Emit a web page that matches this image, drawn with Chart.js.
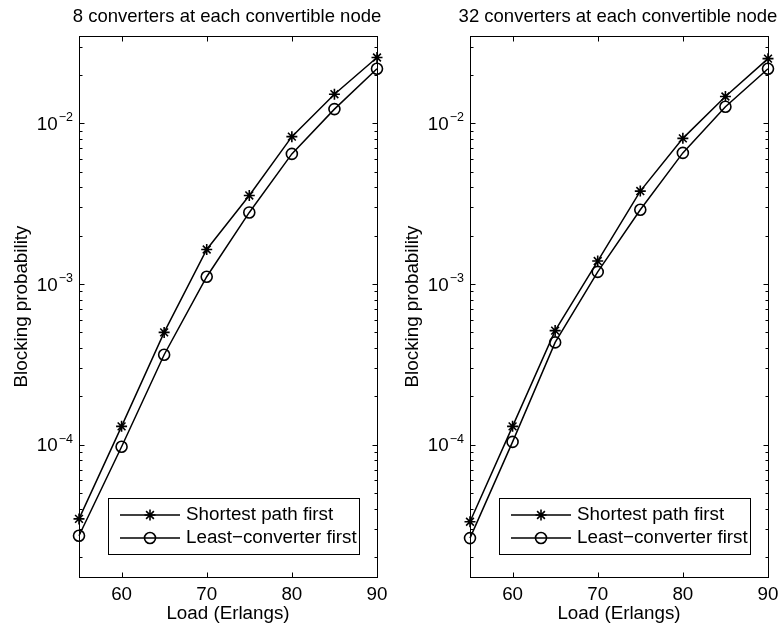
<!DOCTYPE html>
<html>
<head>
<meta charset="utf-8">
<script src="https://cdn.jsdelivr.net/npm/chart.js@4.4.0/dist/chart.umd.min.js"></script>
<style>
  html, body { margin: 0; padding: 0; background: #fff; }
  #wrap { position: relative; width: 779px; height: 632px; }
  #c1 { position: absolute; left: 0; top: 0; }
  #c2 { position: absolute; left: 391px; top: 0; }
</style>
</head>
<body>
<div id="wrap">
  <canvas id="c1" width="390" height="632"></canvas>
  <canvas id="c2" width="388" height="632"></canvas>
</div>
<script>
// data
const loads = [55, 60, 65, 70, 75, 80, 85, 90];
const shortest8 = [3.45e-5, 1.30e-4, 5.0e-4, 1.64e-3, 3.56e-3, 8.27e-3, 1.52e-2, 2.57e-2];
const least8 = [2.71e-5, 9.7e-5, 3.63e-4, 1.11e-3, 2.79e-3, 6.46e-3, 1.227e-2, 2.19e-2];
const shortest32 = [3.31e-5, 1.30e-4, 5.13e-4, 1.39e-3, 3.79e-3, 8.07e-3, 1.47e-2, 2.53e-2];
const least32 = [2.62e-5, 1.04e-4, 4.33e-4, 1.19e-3, 2.90e-3, 6.55e-3, 1.27e-2, 2.19e-2];

const xTicks = [60, 70, 80, 90];
const yTicks = [1e-4, 1e-3, 1e-2];
const yTickExp = ['\u22124', '\u22123', '\u22122'];
const titles = ['8 converters at each convertible node', '32 converters at each convertible node'];
const seriesNames = ['Shortest path first', 'Least\u2212converter first'];

const FAMILY = '"Liberation Sans", Arial, Helvetica, sans-serif';
const FS = 18.8;
const fontMain = { family: FAMILY, size: FS, weight: 'normal' };

// matlab style title, box, inside ticks, superscript tick labels and legend
const matlabAxes = {
  id: 'matlabAxes',
  afterDraw(chart, args, opts) {
    const { ctx, chartArea: a, scales: { x, y } } = chart;
    const L = Math.round(a.left) + 0.5, R = Math.round(a.right) + 0.5;
    const T = Math.round(a.top) + 0.5, B = Math.round(a.bottom) + 0.5;
    ctx.save();

    // title
    ctx.fillStyle = '#000';
    ctx.font = '18.5px ' + FAMILY;
    ctx.textAlign = 'center';
    ctx.textBaseline = 'alphabetic';
    ctx.fillText(opts.title, (a.left + a.right) / 2 - 1, 22);

    ctx.strokeStyle = '#000';
    ctx.lineWidth = 1;
    ctx.strokeRect(L, T, R - L, B - T);

    ctx.beginPath();
    xTicks.forEach(v => {
      const px = Math.round(x.getPixelForValue(v)) + 0.5;
      ctx.moveTo(px, B); ctx.lineTo(px, B - 5);
      ctx.moveTo(px, T); ctx.lineTo(px, T + 5);
    });
    yTicks.forEach(v => {
      const py = Math.round(y.getPixelForValue(v)) + 0.5;
      ctx.moveTo(L, py); ctx.lineTo(L + 5, py);
      ctx.moveTo(R, py); ctx.lineTo(R - 5, py);
    });
    for (let d = -5; d <= -2; d++) {
      for (let m = 2; m <= 9; m++) {
        const v = m * Math.pow(10, d);
        if (v < y.min || v > y.max) continue;
        const py = Math.round(y.getPixelForValue(v)) + 0.5;
        ctx.moveTo(L, py); ctx.lineTo(L + 3, py);
        ctx.moveTo(R, py); ctx.lineTo(R - 3, py);
      }
    }
    ctx.stroke();

    // y tick labels 10^n
    ctx.textAlign = 'right';
    yTicks.forEach((v, i) => {
      const py = y.getPixelForValue(v);
      ctx.font = '12.5px ' + FAMILY;
      const ew = ctx.measureText(yTickExp[i]).width;
      ctx.fillText(yTickExp[i], a.left - 6, py - 2);
      ctx.font = FS + 'px ' + FAMILY;
      ctx.fillText('10', a.left - 7 - ew, py + 6.5);
    });

    // legend
    ctx.font = FS + 'px ' + FAMILY;
    const ds = chart.data.datasets;
    const tw = Math.max(...ds.map(d => ctx.measureText(d.label).width));
    const w = Math.round(tw + 80), h = 56;
    const r = Math.round(a.right) - 18, b = Math.round(a.bottom) - 23;
    const l = r - w, t = b - h;
    ctx.fillStyle = '#fff';
    ctx.fillRect(l, t, w, h);
    ctx.lineWidth = 1;
    ctx.strokeRect(l + 0.5, t + 0.5, w, h);
    ds.forEach((d, i) => {
      const cy = t + 17 + i * 23;
      ctx.strokeStyle = '#000';
      ctx.lineWidth = d.borderWidth;
      ctx.beginPath();
      ctx.moveTo(l + 12, cy); ctx.lineTo(l + 72, cy);
      ctx.stroke();
      ctx.fillStyle = 'rgba(0,0,0,0)';
      ctx.lineWidth = d.pointBorderWidth;
      Chart.helpers.drawPoint(ctx, { pointStyle: d.pointStyle, radius: d.pointRadius, borderWidth: d.pointBorderWidth, rotation: 0 }, l + 42, cy);
      ctx.fillStyle = '#000';
      ctx.textAlign = 'left';
      ctx.textBaseline = 'middle';
      ctx.fillText(d.label, l + 78, cy);
    });
    ctx.restore();
  }
};

function series(label, vals, style, radius) {
  return {
    label: label,
    data: loads.map((l, i) => ({ x: l, y: vals[i] })),
    borderColor: '#000',
    borderWidth: 1.5,
    pointStyle: style,
    pointRadius: radius,
    pointBorderColor: '#000',
    pointBackgroundColor: 'rgba(0,0,0,0)',
    pointBorderWidth: 1.6,
    tension: 0,
    clip: false
  };
}

function makeChart(id, title, s1, s2, padRight) {
  return new Chart(document.getElementById(id), {
    type: 'line',
    data: {
      datasets: [
        series(seriesNames[0], s1, 'star', 5.5),
        series(seriesNames[1], s2, 'circle', 5.5)
      ]
    },
    options: {
      responsive: false,
      animation: false,
      layout: { padding: { left: 0, right: padRight, top: 36, bottom: 0 } },
      plugins: {
        legend: { display: false },
        tooltip: { enabled: false },
        title: { display: false },
        matlabAxes: { title: title }
      },
      scales: {
        x: {
          type: 'linear', min: 55, max: 90,
          grid: { display: false, drawTicks: true, tickLength: 7 },
          border: { display: false },
          afterBuildTicks: s => { s.ticks = xTicks.map(v => ({ value: v })); },
          afterFit: s => { s.height = 55; },
          ticks: { color: '#000', font: fontMain, padding: 0, maxRotation: 0, autoSkip: false },
          title: { display: true, text: 'Load (Erlangs)', color: '#000', font: fontMain, padding: { top: 0, bottom: 6.5 } }
        },
        y: {
          type: 'logarithmic', min: 1.5e-5, max: 0.035,
          grid: { display: false, drawTicks: false },
          border: { display: false },
          ticks: { display: false },
          afterFit: s => { s.width = 79; },
          title: { display: true, text: 'Blocking probability', color: '#000', font: fontMain, padding: { top: 11, bottom: 0 } }
        }
      }
    },
    plugins: [matlabAxes]
  });
}

makeChart('c1', titles[0], shortest8, least8, 13);
makeChart('c2', titles[1], shortest32, least32, 11);
</script>
</body>
</html>
